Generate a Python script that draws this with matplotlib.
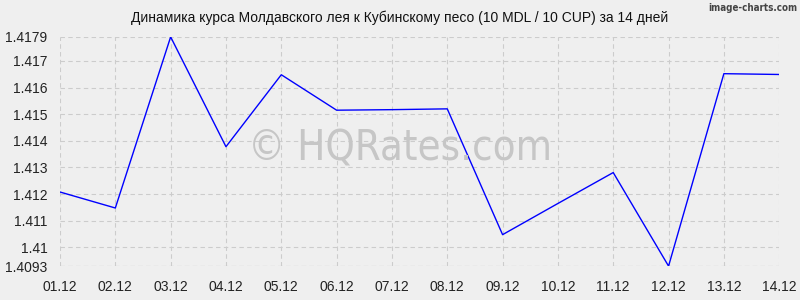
import matplotlib
matplotlib.use("Agg")
import matplotlib.pyplot as plt

plt.rcParams['font.family'] = ['Liberation Sans', 'DejaVu Sans']

dates = ['01.12', '02.12', '03.12', '04.12', '05.12', '06.12', '07.12',
         '08.12', '09.12', '10.12', '11.12', '12.12', '13.12', '14.12']
rates = [1.41208, 1.41148, 1.4179, 1.41378, 1.41648, 1.41515, 1.41517,
         1.41520, 1.41048, 1.41165, 1.41281, 1.4093, 1.41652, 1.41649]
yticks = [1.4093, 1.41, 1.411, 1.412, 1.413, 1.414, 1.415, 1.416, 1.417, 1.4179]
ylabels = ['1.4093', '1.41', '1.411', '1.412', '1.413', '1.414', '1.415',
           '1.416', '1.417', '1.4179']

bg = '#efefef'
fig = plt.figure(figsize=(8, 3), dpi=100, facecolor=bg)
ax = fig.add_axes([0.075, 0.113, 0.899, 0.764], facecolor=bg)

x = range(len(dates))
ax.plot(x, rates, color='#0000ff', lw=1.0, zorder=3)

ax.set_xlim(0, len(dates) - 1)
ax.set_ylim(yticks[0], yticks[-1])
ax.set_xticks(list(x))
ax.set_xticklabels(dates)
ax.set_yticks(yticks)
ax.set_yticklabels(ylabels)
ax.tick_params(length=0, labelsize=10, colors='#222222')
ax.tick_params(axis='x', pad=10)
ax.tick_params(axis='y', pad=9)
ax.grid(True, color='#cccccc', linestyle=(0, (4, 3)), lw=0.8)
for s in ax.spines.values():
    s.set_visible(False)
ax.axhline(yticks[0], color='#bbbbbb', linestyle=(0, (4, 3)), lw=0.8)

fig.text(0.5, 0.94, 'Динамика курса Молдавского лея к Кубинскому песо (10 MDL / 10 CUP) за 14 дней',
         fontsize=10, color='#111111', ha='center', va='center')

fig.text(0.5, 0.505, '© HQRates.com', fontsize=30, fontstretch='condensed',
         color='#c6c6c6', ha='center', va='center', zorder=1,
         family=['DejaVu Sans'])
fig.text(0.997, 0.99, 'image-charts.com', fontsize=7, color='#444444',
         fontweight='bold', fontstretch='condensed',
         ha='right', va='top', family=['DejaVu Sans'])

fig.savefig('out.png', dpi=100, facecolor=bg)
